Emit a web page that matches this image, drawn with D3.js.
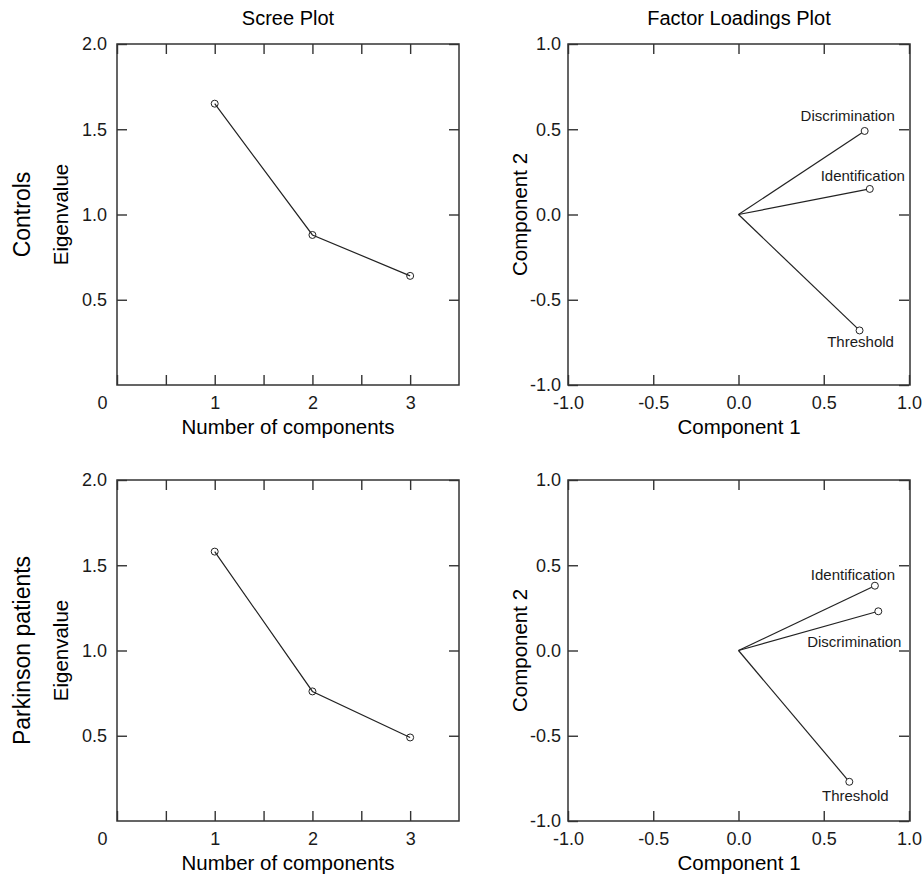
<!DOCTYPE html>
<html>
<head>
<meta charset="utf-8">
<script src="https://cdn.jsdelivr.net/npm/d3@7"></script>
<style>
	body { margin: 0; background: #fff; }
	svg { font-family: "Liberation Sans", Arial, sans-serif; }
	.tick text { fill: #1a1a1a; }
	.tick line { stroke: #333; stroke-width: 1.4; }
</style>
</head>
<body>
<svg width="923" height="883"></svg>
<script>
// --- data ---
let components = [1, 2, 3]
let controlsEigen = [1.65, 0.88, 0.64]
let parkinsonEigen = [1.58, 0.76, 0.49]

let variables = ['Discrimination', 'Identification', 'Threshold']
let controlsComp1 = [0.74, 0.77, 0.71]
let controlsComp2 = [0.49, 0.15, -0.68]
let parkinsonComp1 = [0.82, 0.80, 0.65]
let parkinsonComp2 = [0.23, 0.38, -0.77]

let rowLabels = ['Controls', 'Parkinson patients']
let screeXTicks = [0, 0.5, 1, 1.5, 2, 2.5, 3]
let screeYTicks = [0.5, 1, 1.5, 2]
let loadTicks = [-1, -0.5, 0, 0.5, 1]

// label offsets (dx, dy) for the variable names, per row
let controlsLabelOff = [[-17, -10], [-7, -8], [1, 17]]
let parkinsonLabelOff = [[-24, 36], [-22, -6], [6, 19]]

let config = {
	w: 342,
	h: 341,
	leftX: 117,
	rightX: 568,
	rowY: [44, 480],
}

let svg = d3.select('svg')

function border(g) {
	g.append('rect')
		.attr('width', config.w)
		.attr('height', config.h)
		.attr('fill', 'none')
		.attr('stroke', '#333')
		.attr('stroke-width', 1.5)
}

function drawScree(rowIdx, values) {
	let g = svg.append('g')
		.attr('transform', `translate(${config.leftX}, ${config.rowY[rowIdx]})`)

	let x = d3.scaleLinear().domain([0, 3.5]).range([0, config.w])
	let y = d3.scaleLinear().domain([0, 2]).range([config.h, 0])

	let fmtX = d => Number.isInteger(d) ? d : ''
	let bottom = g.append('g').attr('transform', `translate(0, ${config.h})`)
		.call(d3.axisBottom(x).tickValues(screeXTicks).tickFormat(fmtX)
			.tickSize(-10).tickSizeOuter(0).tickPadding(11))
	bottom.selectAll('.tick').filter(d => d === 0).select('text').attr('dx', -15)
	g.append('g')
		.call(d3.axisTop(x).tickValues(screeXTicks).tickFormat('').tickSize(-10).tickSizeOuter(0))
	g.append('g')
		.call(d3.axisLeft(y).tickValues(screeYTicks).tickFormat(d => d.toFixed(1))
			.tickSize(-10).tickSizeOuter(0).tickPadding(10))
	g.append('g').attr('transform', `translate(${config.w}, 0)`)
		.call(d3.axisRight(y).tickValues(screeYTicks).tickFormat('').tickSize(-10).tickSizeOuter(0))
	g.selectAll('.domain').remove()
	g.selectAll('.tick text').attr('font-size', 18)
	border(g)

	let pts = components.map((c, i) => [c, values[i]])
	g.append('path')
		.datum(pts)
		.attr('fill', 'none')
		.attr('stroke', '#222')
		.attr('stroke-width', 1.2)
		.attr('d', d3.line().x(d => x(d[0])).y(d => y(d[1])))
	g.selectAll('circle.pt')
		.data(pts)
		.enter()
		.append('circle')
		.attr('class', 'pt')
		.attr('cx', d => x(d[0]))
		.attr('cy', d => y(d[1]))
		.attr('r', 3.5)
		.attr('fill', 'none')
		.attr('stroke', '#222')
		.attr('stroke-width', 1)

	g.append('text')
		.attr('x', config.w / 2)
		.attr('y', config.h + 49)
		.attr('text-anchor', 'middle')
		.attr('font-size', 20.5)
		.text('Number of components')
	g.append('text')
		.attr('transform', `translate(-49, ${config.h / 2}) rotate(-90)`)
		.attr('text-anchor', 'middle')
		.attr('font-size', 20.5)
		.text('Eigenvalue')
	g.append('text')
		.attr('transform', `translate(-87, ${config.h / 2}) rotate(-90)`)
		.attr('text-anchor', 'middle')
		.attr('font-size', 23)
		.text(rowLabels[rowIdx])
}

function drawLoadings(rowIdx, comp1, comp2, offs) {
	let g = svg.append('g')
		.attr('transform', `translate(${config.rightX}, ${config.rowY[rowIdx]})`)

	let x = d3.scaleLinear().domain([-1, 1]).range([0, config.w - 1])
	let y = d3.scaleLinear().domain([-1, 1]).range([config.h, 0])
	let fmt = d => d.toFixed(1)

	g.append('g').attr('transform', `translate(0, ${config.h})`)
		.call(d3.axisBottom(x).tickValues(loadTicks).tickFormat(fmt)
			.tickSize(-10).tickSizeOuter(0).tickPadding(11))
	g.append('g')
		.call(d3.axisTop(x).tickValues(loadTicks).tickFormat('').tickSize(-10).tickSizeOuter(0))
	g.append('g')
		.call(d3.axisLeft(y).tickValues(loadTicks).tickFormat(fmt)
			.tickSize(-10).tickSizeOuter(0).tickPadding(7))
	g.append('g').attr('transform', `translate(${config.w - 1}, 0)`)
		.call(d3.axisRight(y).tickValues(loadTicks).tickFormat('').tickSize(-10).tickSizeOuter(0))
	g.selectAll('.domain').remove()
	g.selectAll('.tick text').attr('font-size', 18)
	border(g)

	let pts = variables.map((v, i) => ({ name: v, c1: comp1[i], c2: comp2[i], off: offs[i] }))

	g.selectAll('line.load')
		.data(pts)
		.enter()
		.append('line')
		.attr('class', 'load')
		.attr('x1', x(0))
		.attr('y1', y(0))
		.attr('x2', d => x(d.c1))
		.attr('y2', d => y(d.c2))
		.attr('stroke', '#222')
		.attr('stroke-width', 1.2)
	g.selectAll('circle.pt')
		.data(pts)
		.enter()
		.append('circle')
		.attr('class', 'pt')
		.attr('cx', d => x(d.c1))
		.attr('cy', d => y(d.c2))
		.attr('r', 3.5)
		.attr('fill', '#fff')
		.attr('stroke', '#222')
		.attr('stroke-width', 1)
	g.selectAll('text.lbl')
		.data(pts)
		.enter()
		.append('text')
		.attr('class', 'lbl')
		.attr('x', d => x(d.c1) + d.off[0])
		.attr('y', d => y(d.c2) + d.off[1])
		.attr('text-anchor', 'middle')
		.attr('font-size', 15)
		.attr('fill', '#1a1a1a')
		.text(d => d.name)

	g.append('text')
		.attr('x', config.w / 2)
		.attr('y', config.h + 49)
		.attr('text-anchor', 'middle')
		.attr('font-size', 20.5)
		.text('Component 1')
	g.append('text')
		.attr('transform', `translate(-41, ${config.h / 2}) rotate(-90)`)
		.attr('text-anchor', 'middle')
		.attr('font-size', 20.5)
		.text('Component 2')
}

// column titles
svg.append('text')
	.attr('x', config.leftX + config.w / 2)
	.attr('y', 25)
	.attr('text-anchor', 'middle')
	.attr('font-size', 20)
	.text('Scree Plot')
svg.append('text')
	.attr('x', config.rightX + config.w / 2)
	.attr('y', 25)
	.attr('text-anchor', 'middle')
	.attr('font-size', 20)
	.text('Factor Loadings Plot')

drawScree(0, controlsEigen)
drawScree(1, parkinsonEigen)
drawLoadings(0, controlsComp1, controlsComp2, controlsLabelOff)
drawLoadings(1, parkinsonComp1, parkinsonComp2, parkinsonLabelOff)
</script>
</body>
</html>
